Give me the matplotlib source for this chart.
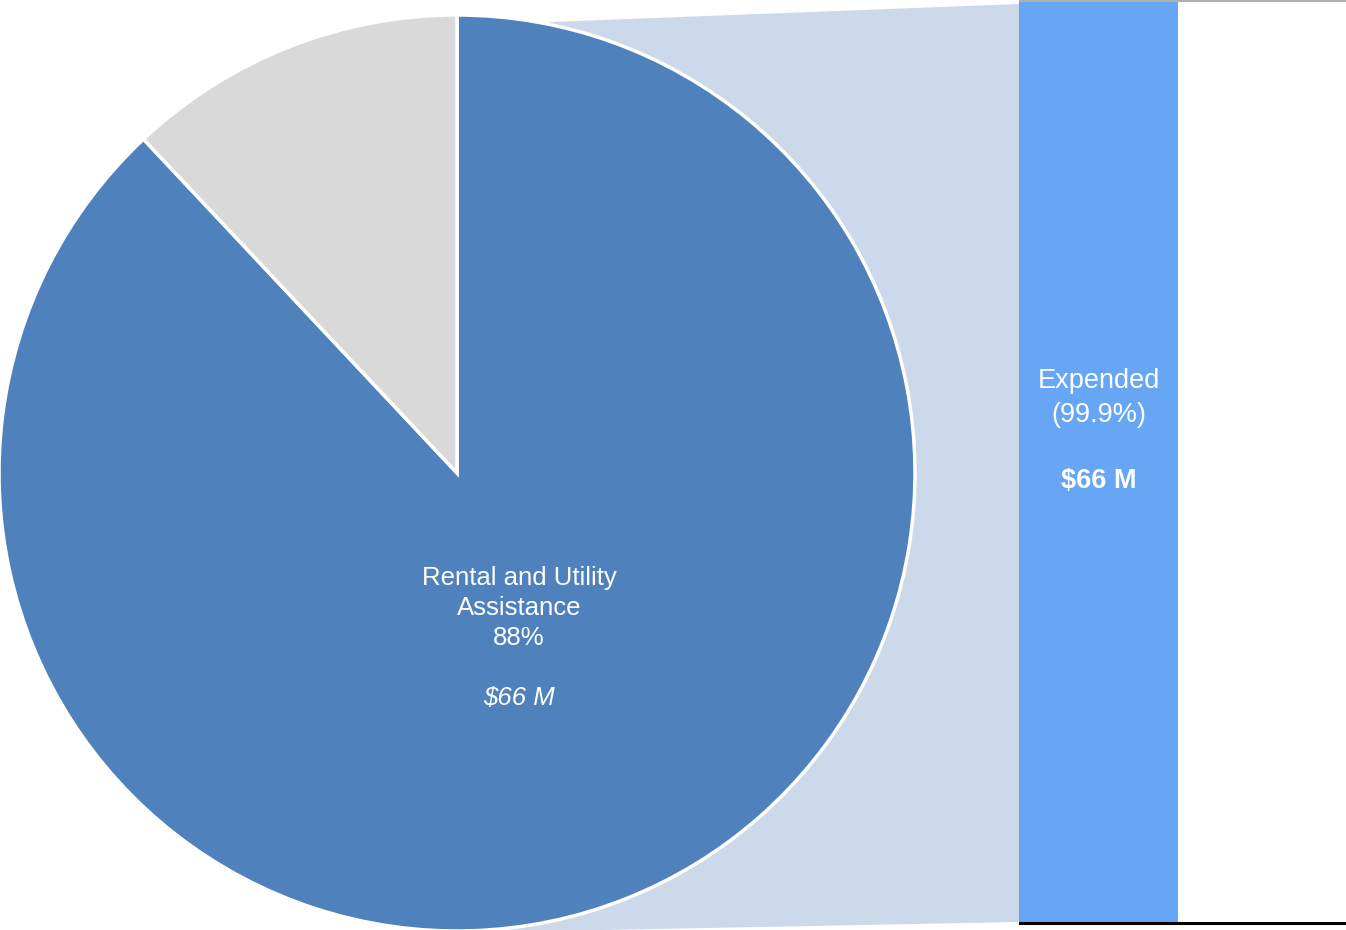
import matplotlib.pyplot as plt
from matplotlib.patches import Polygon

plt.rcParams['font.family'] = ['Liberation Sans', 'DejaVu Sans']

# pie: share of funds by category
pie_labels = ['Rental and Utility\nAssistance', 'Other']
pie_pcts = [88, 12]
pie_amounts = ['$66 M', '']

# bar: breakdown of the rental slice
bar_labels = ['Expended', 'Remaining']
bar_pcts = [99.9, 0.1]
bar_amounts = ['$66 M', '']

W, H = 1346, 930
fig = plt.figure(figsize=(W / 100, H / 100), dpi=100)
ax = fig.add_axes([0, 0, 1, 1])
ax.set_xlim(0, W)
ax.set_ylim(0, H)
ax.axis('off')

cx, cy, r = 457, 457, 458

# connector between pie and bar (behind the pie)
conn = Polygon([(cx, cy), (550, 908), (1019, 926), (1019, 8), (500, -2)],
               closed=True, facecolor='#cbd9eb', edgecolor='none', zorder=0)
ax.add_patch(conn)

wedges, _ = ax.pie(pie_pcts, colors=['#4f81bd', '#d9d9d9'], startangle=90,
                   counterclock=False, center=(cx, cy), radius=r,
                   wedgeprops=dict(edgecolor='white', linewidth=2.5))
for w in wedges:
    w.set_zorder(2)
ax.set_xlim(0, W)
ax.set_ylim(0, H)
ax.set_aspect('equal')

ax.text(519, 930 - 608, f'{pie_labels[0]}\n{pie_pcts[0]}%', color='white',
        fontsize=18.5, ha='center', va='center', linespacing=1.3, zorder=3)
ax.text(519, 930 - 698, pie_amounts[0], color='white', fontsize=18.5,
        style='italic', ha='center', va='center', zorder=3)

# stacked bar, 920 px tall for 100 %
bar_h = 920
bottom = 8
bx, bw = 1098.5, 159
cols = ['#66a6f5', '#66a6f5']
for v, c in zip(bar_pcts, cols):
    h = v / 100 * bar_h
    ax.bar(bx, h, width=bw, bottom=bottom, color=c, zorder=2)
    bottom += h

ax.text(bx, 930 - 398, f'{bar_labels[0]}\n({bar_pcts[0]}%)', color='white',
        fontsize=19.5, ha='center', va='center', linespacing=1.38, zorder=3)
ax.text(bx, 930 - 481, bar_amounts[0], color='white', fontsize=19.5,
        fontweight='bold', ha='center', va='center', zorder=3)

ax.plot([1020, W], [929.3, 929.3], color='#b0b0b0', lw=1.5, zorder=3)
ax.plot([1020, W], [7.5, 7.5], color='black', lw=2.2, zorder=3)

fig.savefig('out.png', dpi=100)
